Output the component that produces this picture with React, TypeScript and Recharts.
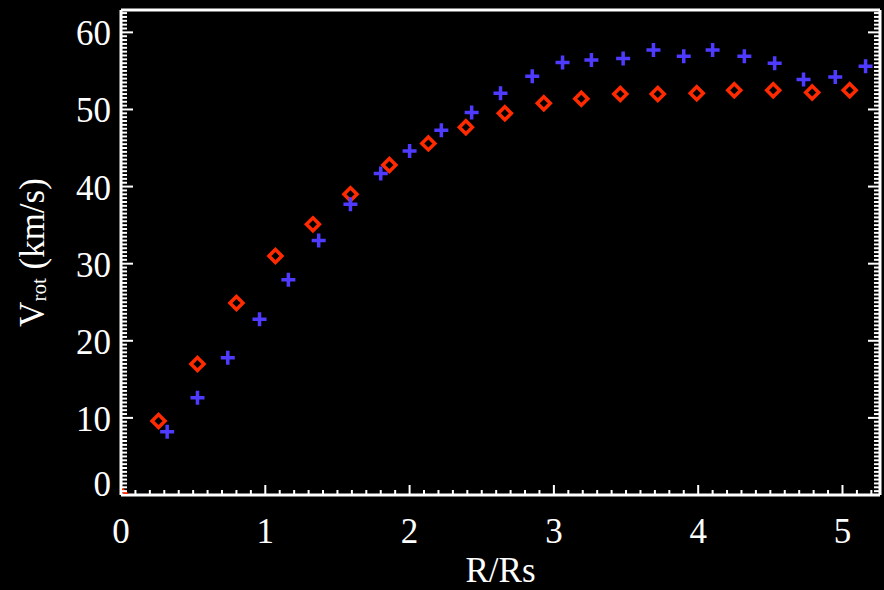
import React from "react";
import { ScatterChart, Scatter, XAxis, YAxis } from "recharts";

// diamonds (red) and crosses (blue)
const diamondR = [0, 0.26, 0.53, 0.8, 1.07, 1.33, 1.59, 1.86, 2.13, 2.39, 2.66, 2.93, 3.19, 3.46, 3.72, 3.99, 4.25, 4.52, 4.79, 5.05];
const diamondV = [0, 9.6, 17.0, 24.9, 31.0, 35.1, 39.0, 42.8, 45.6, 47.7, 49.5, 50.8, 51.4, 52.0, 52.0, 52.1, 52.5, 52.5, 52.2, 52.5];
const crossR = [0.32, 0.53, 0.74, 0.96, 1.16, 1.37, 1.59, 1.8, 2.0, 2.22, 2.43, 2.63, 2.85, 3.06, 3.26, 3.48, 3.69, 3.9, 4.1, 4.32, 4.53, 4.73, 4.95, 5.16];
const crossV = [8.2, 12.6, 17.8, 22.8, 27.9, 33.0, 37.7, 41.7, 44.6, 47.3, 49.6, 52.1, 54.3, 56.1, 56.4, 56.6, 57.7, 56.9, 57.7, 56.9, 56.0, 53.9, 54.2, 55.6];

const xMajorTicks = [0, 1, 2, 3, 4, 5];
const yMajorTicks = [0, 10, 20, 30, 40, 50, 60];

const X_MAX = 5.26;
const Y_MAX = 62.9;
const X_MINOR = 0.1;
const Y_MINOR = 0.5;

const SERIF = "'Liberation Serif', 'Times New Roman', serif";
const RED = "#ff2a00";
const BLUE = "#4f3bff";

const diamondData = diamondR.map((r, i) => ({ r, v: diamondV[i] }));
const crossData = crossR.map((r, i) => ({ r, v: crossV[i] }));

const xTicks: number[] = [];
for (let i = 0; i * X_MINOR <= X_MAX + 1e-9; i++) xTicks.push(Math.round(i * X_MINOR * 10) / 10);
const yTicks: number[] = [];
for (let i = 0; i * Y_MINOR <= Y_MAX + 1e-9; i++) yTicks.push(Math.round(i * Y_MINOR * 10) / 10);

const isMajorX = (v: number) => xMajorTicks.includes(v);
const isMajorY = (v: number) => yMajorTicks.includes(v);

const BottomTick = (props: any) => {
  const { x, y, payload } = props;
  const major = isMajorX(payload.value);
  return (
    <g>
      <line x1={x} y1={y} x2={x} y2={y - (major ? 10 : 5)} stroke="#fff" strokeWidth={2} />
      {major && (
        <text x={x} y={y + 48} textAnchor="middle" fill="#fff" fontSize={35} fontFamily={SERIF}>
          {payload.value}
        </text>
      )}
    </g>
  );
};

const TopTick = (props: any) => {
  const { x, y, payload } = props;
  const major = isMajorX(payload.value);
  return <line x1={x} y1={y} x2={x} y2={y + (major ? 10 : 5)} stroke="#fff" strokeWidth={2} />;
};

const LeftTick = (props: any) => {
  const { x, y, payload } = props;
  const major = isMajorY(payload.value);
  return (
    <g>
      <line x1={x} y1={y} x2={x + (major ? 12 : 6)} y2={y} stroke="#fff" strokeWidth={2} />
      {major && (
        <text
          x={x - 10}
          y={y + (payload.value === 0 ? 1 : 13)}
          textAnchor="end"
          fill="#fff"
          fontSize={35}
          fontFamily={SERIF}
        >
          {payload.value}
        </text>
      )}
    </g>
  );
};

const RightTick = (props: any) => {
  const { x, y, payload } = props;
  const major = isMajorY(payload.value);
  return <line x1={x} y1={y} x2={x - (major ? 12 : 6)} y2={y} stroke="#fff" strokeWidth={2} />;
};

const YTitle = (props: any) => {
  const vb = props.viewBox || {};
  const cy = (vb.y ?? 10) + (vb.height ?? 485) / 2;
  const x = 44;
  return (
    <text
      x={x}
      y={cy}
      transform={`rotate(-90 ${x} ${cy})`}
      textAnchor="middle"
      fill="#fff"
      fontSize={35}
      fontFamily={SERIF}
    >
      <tspan>V</tspan>
      <tspan fontSize={21} dy={2}>rot</tspan>
      <tspan dy={-2}> (km/s)</tspan>
    </text>
  );
};

const Diamond = (props: any) => {
  const { cx, cy } = props;
  const r = 6.5;
  return (
    <path
      d={`M${cx},${cy - r}L${cx + r},${cy}L${cx},${cy + r}L${cx - r},${cy}Z`}
      fill="none"
      stroke={RED}
      strokeWidth={3.5}
    />
  );
};

const Cross = (props: any) => {
  const { cx, cy } = props;
  const r = 7;
  return (
    <path d={`M${cx - r},${cy}H${cx + r}M${cx},${cy - r}V${cy + r}`} stroke={BLUE} strokeWidth={3.5} />
  );
};

const axisLine = { stroke: "#fff", strokeWidth: 3 };

export default function App() {
  return (
    <div style={{ width: 884, height: 590, background: "#000" }}>
      <style>{`body{margin:0;background:#000}`}</style>
      <ScatterChart width={884} height={590} margin={{ top: 0, right: 0, bottom: 0, left: 0 }}>
        <XAxis
          xAxisId="x"
          type="number"
          dataKey="r"
          domain={[0, X_MAX]}
          allowDataOverflow
          ticks={xTicks}
          interval={0}
          tickSize={0}
          tickMargin={0}
          tickLine={false}
          axisLine={axisLine}
          tick={BottomTick}
          height={95}
          label={{ value: "R/Rs", position: "insideBottom", offset: 8, fill: "#fff", fontSize: 35, fontFamily: SERIF }}
        />
        <XAxis
          xAxisId="top"
          orientation="top"
          type="number"
          domain={[0, X_MAX]}
          allowDataOverflow
          ticks={xTicks}
          interval={0}
          tickSize={0}
          tickMargin={0}
          tickLine={false}
          axisLine={axisLine}
          tick={TopTick}
          height={10}
        />
        <YAxis
          yAxisId="y"
          type="number"
          dataKey="v"
          domain={[0, Y_MAX]}
          allowDataOverflow
          ticks={yTicks}
          interval={0}
          tickSize={0}
          tickMargin={0}
          tickLine={false}
          axisLine={axisLine}
          tick={LeftTick}
          width={121}
          label={YTitle}
        />
        <YAxis
          yAxisId="right"
          orientation="right"
          type="number"
          domain={[0, Y_MAX]}
          allowDataOverflow
          ticks={yTicks}
          interval={0}
          tickSize={0}
          tickMargin={0}
          tickLine={false}
          axisLine={axisLine}
          tick={RightTick}
          width={4}
        />
        <Scatter
          data={diamondData}
          xAxisId="x"
          yAxisId="y"
          shape={Diamond}
          isAnimationActive={false}
        />
        <Scatter
          data={crossData}
          xAxisId="x"
          yAxisId="y"
          shape={Cross}
          isAnimationActive={false}
        />
      </ScatterChart>
    </div>
  );
}
